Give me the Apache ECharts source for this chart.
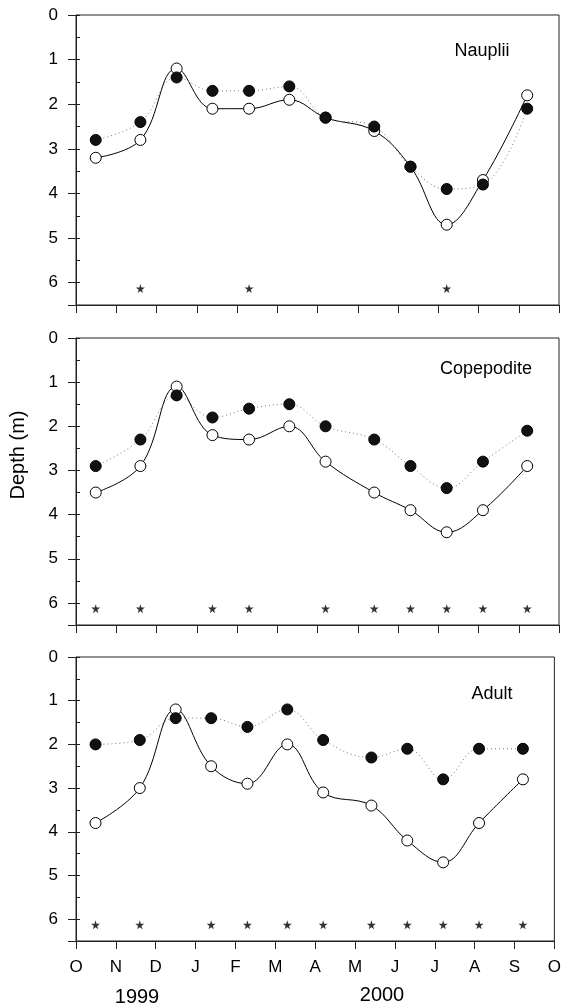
<!DOCTYPE html>
<html>
<head>
<meta charset="utf-8">
<script src="https://cdn.jsdelivr.net/npm/echarts@6/dist/echarts.min.js"></script>
<style>
  html, body { margin: 0; padding: 0; background: #fff; }
  #chart { width: 564px; height: 1008px; }
</style>
</head>
<body>
<div id="chart"></div>
<script>
// ---- data ----
const monthLabels = ['O','N','D','J','F','M','A','M','J','J','A','S','O'];
const yearLabels = ['1999', '2000'];
const depthTicks = [0, 1, 2, 3, 4, 5, 6];
// sampling dates in months since 1 Oct 1999
const sampleMonths = [0.49, 1.60, 2.50, 3.39, 4.30, 5.30, 6.20, 7.41, 8.31, 9.21, 10.11, 11.21];
const panelNames = ['Nauplii', 'Copepodite', 'Adult'];

const naupliiFilled = [2.8, 2.4, 1.4, 1.7, 1.7, 1.6, 2.3, 2.5, 3.4, 3.9, 3.8, 2.1];
const naupliiOpen   = [3.2, 2.8, 1.2, 2.1, 2.1, 1.9, 2.3, 2.6, 3.4, 4.7, 3.7, 1.8];
const naupliiStars  = [1, 4, 9];

const copepoditeFilled = [2.9, 2.3, 1.3, 1.8, 1.6, 1.5, 2.0, 2.3, 2.9, 3.4, 2.8, 2.1];
const copepoditeOpen   = [3.5, 2.9, 1.1, 2.2, 2.3, 2.0, 2.8, 3.5, 3.9, 4.4, 3.9, 2.9];
const copepoditeStars  = [0, 1, 3, 4, 6, 7, 8, 9, 10, 11];

const adultFilled = [2.0, 1.9, 1.4, 1.4, 1.6, 1.2, 1.9, 2.3, 2.1, 2.8, 2.1, 2.1];
const adultOpen   = [3.8, 3.0, 1.2, 2.5, 2.9, 2.0, 3.1, 3.4, 4.2, 4.7, 3.8, 2.8];
const adultStars  = [0, 1, 3, 4, 5, 6, 7, 8, 9, 10, 11];

const starDepth = 6.13;

// ---- chart ----
const FONT = "'Liberation Sans', Arial, Helvetica, sans-serif";
const AX = '#222';
const STAR = 'path://M50,0 L61,35 L98,35 L68,57 L79,91 L50,70 L21,91 L32,57 L2,35 L39,35 Z';

const panels = [
  { filled: naupliiFilled, open: naupliiOpen, stars: naupliiStars },
  { filled: copepoditeFilled, open: copepoditeOpen, stars: copepoditeStars },
  { filled: adultFilled, open: adultOpen, stars: adultStars }
];
const grids = [
  { left: 76, top: 15, width: 483, height: 290 },
  { left: 76, top: 338, width: 483, height: 287 },
  { left: 76, top: 657, width: 483, height: 284 }
];
const labelPos = [[482, 51], [486, 369], [492, 694]];

const pair = arr => arr.map((v, i) => [sampleMonths[i], v]);

const option = {
  animation: false,
  backgroundColor: '#fff',
  grid: grids.map(g => Object.assign({ show: true, borderColor: AX, borderWidth: 1, backgroundColor: 'transparent' }, g)),
  xAxis: grids.map((g, i) => ({
    type: 'value', gridIndex: i, min: 0, max: 12, interval: 1,
    axisLine: { show: true, onZero: false, lineStyle: { color: AX, width: 1 } },
    axisTick: { show: true, length: 8, lineStyle: { color: AX, width: 1 } },
    axisLabel: { show: i === 2, formatter: v => monthLabels[v], margin: 18, fontSize: 17, color: '#000', fontFamily: FONT },
    splitLine: { show: false }
  })),
  yAxis: [].concat(
    grids.map((g, i) => ({
      type: 'value', gridIndex: i, inverse: true, min: 0, max: 6.5, interval: 1,
      axisLine: { show: true, onZero: false, lineStyle: { color: AX, width: 1 } },
      axisTick: { show: true, length: 8, lineStyle: { color: AX, width: 1 } },
      axisLabel: { formatter: v => depthTicks.indexOf(v) >= 0 ? String(v) : '', margin: 18, fontSize: 17, color: '#000', fontFamily: FONT },
      splitLine: { show: false }
    })),
    grids.map((g, i) => ({
      type: 'value', gridIndex: i, inverse: true, min: 0, max: 6.5, interval: 0.5,
      axisLine: { show: false },
      axisTick: { show: true, length: 4, lineStyle: { color: AX, width: 1 } },
      axisLabel: { show: false },
      splitLine: { show: false }
    }))
  ),
  series: [].concat(...panels.map((p, i) => [
    {
      type: 'line', xAxisIndex: i, yAxisIndex: i, data: pair(p.open), smooth: 0.4,
      symbol: 'circle', symbolSize: 11, showSymbol: true,
      lineStyle: { color: '#000', width: 1 },
      itemStyle: { color: '#fff', borderColor: '#000', borderWidth: 1 },
      z: 3
    },
    {
      type: 'line', xAxisIndex: i, yAxisIndex: i, data: pair(p.filled), smooth: 0.4,
      symbol: 'circle', symbolSize: 11, showSymbol: true,
      lineStyle: { color: '#777', width: 1, type: [1, 3] },
      itemStyle: { color: '#111', borderColor: '#000', borderWidth: 1 },
      z: 4
    },
    {
      type: 'scatter', xAxisIndex: i, yAxisIndex: i,
      data: p.stars.map(k => [sampleMonths[k], starDepth]),
      symbol: STAR, symbolSize: 9, itemStyle: { color: '#000' }, z: 5
    }
  ])),
  graphic: [].concat(
    panelNames.map((n, i) => ({
      type: 'text', x: labelPos[i][0], y: labelPos[i][1],
      style: { text: n, font: '18px ' + FONT, fill: '#000', align: 'center', verticalAlign: 'middle', textAlign: 'center', textVerticalAlign: 'middle' }
    })),
    [
      { type: 'text', x: 137, y: 997, style: { text: yearLabels[0], font: '20px ' + FONT, fill: '#000', align: 'center', verticalAlign: 'middle', textAlign: 'center', textVerticalAlign: 'middle' } },
      { type: 'text', x: 382, y: 995, style: { text: yearLabels[1], font: '20px ' + FONT, fill: '#000', align: 'center', verticalAlign: 'middle', textAlign: 'center', textVerticalAlign: 'middle' } },
      { type: 'text', x: 18, y: 455, rotation: Math.PI / 2, style: { text: 'Depth (m)', font: '20px ' + FONT, fill: '#000', align: 'center', verticalAlign: 'middle', textAlign: 'center', textVerticalAlign: 'middle' } }
    ]
  )
};

const chart = echarts.init(document.getElementById('chart'), null, { renderer: 'canvas' });
chart.setOption(option);
</script>
</body>
</html>
